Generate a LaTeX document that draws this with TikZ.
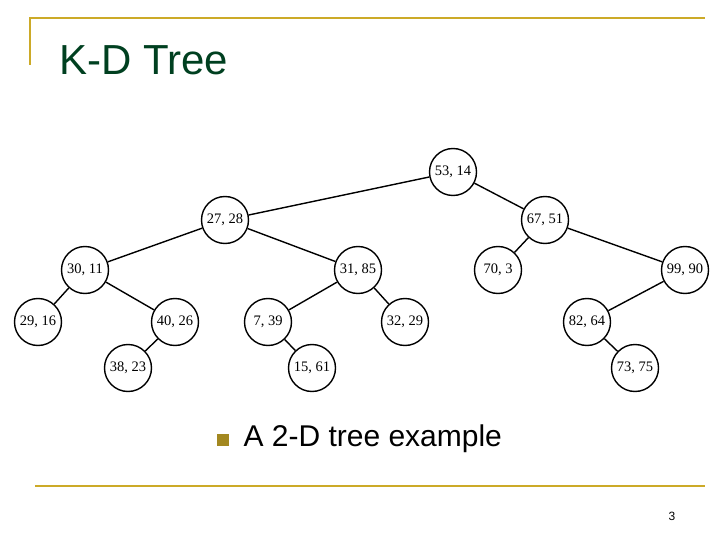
\documentclass[tikz,border=0pt]{standalone}
\usepackage{fontspec}
\setmainfont{Liberation Serif}
\newfontfamily\sans{Liberation Sans}
\definecolor{gold}{RGB}{204,170,40}
\definecolor{titlec}{RGB}{0,64,32}
\begin{document}
\begin{tikzpicture}[x=1pt,y=-1pt,
  kd/.style={circle,draw,line width=1.4pt,minimum size=47pt,inner sep=0pt,font=\fontsize{14.5}{14.5}\selectfont},
  edge/.style={line width=1.4pt}]
\useasboundingbox (0,0) rectangle (720,540);
\draw[gold,line width=2.5pt] (30,65) -- (30,18) -- (705,18);
\draw[gold,line width=2.5pt] (35,486) -- (705,486);
\node[anchor=west,text=titlec,font=\sans\fontsize{42}{42}\selectfont] (title) at (56,60) {K-D Tree};
\node[kd] (a) at (453,172) {53, 14};
\node[kd] (b) at (225,220) {27, 28};
\node[kd] (c) at (545,220) {67, 51};
\node[kd] (d) at (85,270) {30, 11};
\node[kd] (e) at (358,270) {31, 85};
\node[kd] (f) at (498,270) {70, 3};
\node[kd] (g) at (685,270) {99, 90};
\node[kd] (h) at (38,322) {29, 16};
\node[kd] (i) at (175,322) {40, 26};
\node[kd] (j) at (268,322) {7, 39};
\node[kd] (k) at (405,322) {32, 29};
\node[kd] (l) at (587,322) {82, 64};
\node[kd] (m) at (128,368) {38, 23};
\node[kd] (n) at (312,368) {15, 61};
\node[kd] (o) at (635,368) {73, 75};
\foreach \u/\v in {a/b,a/c,b/d,b/e,c/f,c/g,d/h,d/i,i/m,e/j,e/k,j/n,g/l,l/o}
  \draw[edge] (\u) -- (\v);
\fill[gold!80!black] (217,434) rectangle (229,446) coordinate (bul);
\node[anchor=west,font=\sans\fontsize{30}{30}\selectfont] (cap) at (240,439) {A 2-D tree example};
\node[font=\sans\fontsize{12}{12}\selectfont] (pg) at (672,516) {3};
\end{tikzpicture}
\end{document}
